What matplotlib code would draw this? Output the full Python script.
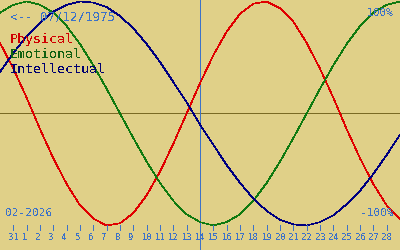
import matplotlib
import numpy as np
from matplotlib import pyplot as plt
from matplotlib import transforms

matplotlib.use('Agg')

# day index 0 = 31 Jan 2026, curves read from -1 to 29
day_index = np.arange(-1, 30)
physical = [63, 40, 14, -14, -40, -63, -82, -94, -100, -98, -89, -73, -52, -27, 0, 27,
            52, 73, 89, 98, 100, 94, 82, 63, 40, 14, -14, -40, -63, -82, -94]
emotional = [90, 97, 100, 97, 90, 78, 62, 43, 22, 0, -22, -43, -62, -78, -90, -97,
             -100, -97, -90, -78, -62, -43, -22, 0, 22, 43, 62, 78, 90, 97, 100]
intellectual = [37, 54, 69, 81, 91, 97, 100, 99, 95, 87, 76, 62, 46, 28, 10, -10,
                -28, -46, -62, -76, -87, -95, -99, -100, -97, -91, -81, -69, -54, -37, -19]

day_labels = ['31'] + [str(d) for d in range(1, 29)]
today = 14
birth_text = '<-- 07/12/1975'
month_text = '02-2026'

BG = '#E0D088'
BLUE = '#3C72C8'
LW = 0.7
plt.rcParams['text.antialiased'] = False
MONO = 'DejaVu Sans Mono'

fig = plt.figure(figsize=(4, 2.5), dpi=100)
fig.patch.set_facecolor(BG)
ax = fig.add_axes([0, 0, 1, 1])
ax.set_axis_off()
ax.set_xlim(-1, 29)
ax.set_ylim(-121.9, 101.3)

ax.axhline(0, color='#7A6A24', lw=LW, antialiased=False)
ax.axvline(today, color=BLUE, lw=LW, antialiased=False)

ax.plot(day_index, physical, color='#E00000', lw=0.5, antialiased=False)
ax.plot(day_index, emotional, color='#107A10', lw=0.5, antialiased=False)
ax.plot(day_index, intellectual, color='#000080', lw=0.5, antialiased=False)

# day ticks along the bottom
ticks = np.arange(len(day_labels))
trans = transforms.blended_transform_factory(ax.transData, ax.transAxes)
ax.vlines(ticks, 0.08, 0.1, transform=trans, color=BLUE, lw=LW, antialiased=False)
for t, lab in zip(ticks, day_labels):
    ax.annotate(lab, (t, 0.038), xycoords=trans, xytext=(-5, 0), textcoords='offset pixels',
                ha='left', va='baseline', fontsize=6.5, family=MONO, color=BLUE)

fig.text(0.025, 0.916, birth_text, fontsize=9, family=MONO, color=BLUE, va='baseline')
fig.text(0.025, 0.827, 'Physical', fontsize=9.5, family=MONO, color='#D00000', va='baseline')
fig.text(0.025, 0.767, 'Emotional', fontsize=9.5, family=MONO, color='#106010', va='baseline')
fig.text(0.025, 0.707, 'Intellectual', fontsize=9.5, family=MONO, color='#000070', va='baseline')
fig.text(0.985, 0.937, '100%', fontsize=8, family=MONO, color=BLUE, ha='right', va='baseline')
fig.text(0.985, 0.136, '-100%', fontsize=8, family=MONO, color=BLUE, ha='right', va='baseline')
fig.text(0.0125, 0.136, month_text, fontsize=8, family=MONO, color=BLUE, va='baseline')

fig.savefig('out.png', dpi=100, facecolor=BG)
